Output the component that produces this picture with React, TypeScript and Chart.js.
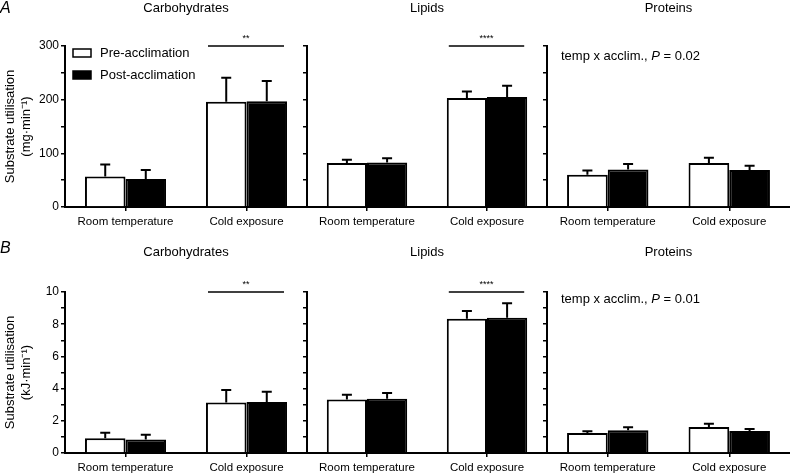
import React, { useEffect, useRef } from "react";
import { Chart, registerables } from "chart.js";
Chart.register(...registerables);

Chart.defaults.font.family = "'Liberation Sans', Arial, Helvetica, sans-serif";
Chart.defaults.color = "#000";

const categories = ["Room temperature", "Cold exposure"];
const panelTitles = ["Carbohydrates", "Lipids", "Proteins"];
const seriesNames = ["Pre-acclimation", "Post-acclimation"];

// Panel A: mg·min⁻¹ (mean and upper SD)
const carbMgPre = [57, 196];
const carbMgPost = [52, 197];
const carbMgPreSd = [22, 45];
const carbMgPostSd = [17, 38];
const lipidMgPre = [82, 203];
const lipidMgPost = [83, 205];
const lipidMgPreSd = [6, 12];
const lipidMgPostSd = [8, 21];
const protMgPre = [60, 82];
const protMgPost = [70, 69];
const protMgPreSd = [8, 10];
const protMgPostSd = [10, 8];

// Panel B: kJ·min⁻¹
const carbKjPre = [0.92, 3.13];
const carbKjPost = [0.84, 3.17];
const carbKjPreSd = [0.34, 0.79];
const carbKjPostSd = [0.29, 0.63];
const lipidKjPre = [3.33, 8.34];
const lipidKjPost = [3.37, 8.4];
const lipidKjPreSd = [0.29, 0.48];
const lipidKjPostSd = [0.36, 0.9];
const protKjPre = [1.24, 1.61];
const protKjPost = [1.41, 1.37];
const protKjPreSd = [0.11, 0.21];
const protKjPostSd = [0.19, 0.12];

// axes
const yLabelsA = [0, 100, 200, 300];
const yMaxA = 300;
const yStepA = 50;
const yLabelsB = [0, 2, 4, 6, 8, 10];
const yMaxB = 10;
const yStepB = 1;

const yTitleA = ["Substrate utilisation", "(mg·min⁻¹)"];
const yTitleB = ["Substrate utilisation", "(kJ·min⁻¹)"];

const sigMarks = ["**", "****", ""];
const interactionPA = "0.02";
const interactionPB = "0.01";

const FONT = "'Liberation Sans', Arial, Helvetica, sans-serif";

type PanelCfg = {
  col: number;
  row: number;
  pre: number[];
  post: number[];
  preSd: number[];
  postSd: number[];
  yMax: number;
  yStep: number;
  yLabels: number[];
  yTitle: string[] | null;
  letter: string | null;
  legend: boolean;
  sig: string;
  note: string | null;
};

const colLayout = [
  { left: 0, width: 307, yw: 65 },
  { left: 301, width: 246, yw: 6 },
  { left: 541, width: 249, yw: 6 },
];
const rowLayout = [
  { top: 0, height: 228, areaTop: 46, titleY: 8, letterY: 9, noteDy: 10 },
  { top: 236, height: 238, areaTop: 56, titleY: 16, letterY: 13, noteDy: 7 },
];
const XAXIS_H = 21;

function makeDecor(cfg: PanelCfg, errs: number[][]) {
  const rl = rowLayout[cfg.row];
  return {
    id: "decor" + cfg.row + cfg.col,
    afterDatasetsDraw(chart: any) {
      const ctx = chart.ctx as CanvasRenderingContext2D;
      const ys = chart.scales.y;
      const area = chart.chartArea;
      ctx.save();
      // error bars
      ctx.strokeStyle = "#000";
      ctx.lineWidth = 2;
      chart.data.datasets.forEach((ds: any, di: number) => {
        const meta = chart.getDatasetMeta(di);
        meta.data.forEach((el: any, i: number) => {
          const v = ds.data[i];
          const e = errs[di][i];
          const x = el.x;
          const y0 = el.y;
          const y1 = ys.getPixelForValue(v + e);
          ctx.beginPath();
          ctx.moveTo(x, y0);
          ctx.lineTo(x, y1);
          ctx.moveTo(x - 5, y1);
          ctx.lineTo(x + 5, y1);
          ctx.stroke();
        });
      });
      // significance line
      if (cfg.sig) {
        const a = chart.getDatasetMeta(0).data[1] as any;
        const b = chart.getDatasetMeta(1).data[1] as any;
        const x0 = a.x - a.width / 2 + 2;
        const x1 = b.x + b.width / 2 - 3;
        const yl = ys.getPixelForValue(cfg.yMax);
        ctx.lineWidth = 1.5;
        ctx.beginPath();
        ctx.moveTo(x0, yl);
        ctx.lineTo(x1, yl);
        ctx.stroke();
        ctx.fillStyle = "#000";
        ctx.font = "9px " + FONT;
        ctx.textAlign = "center";
        ctx.textBaseline = "middle";
        ctx.fillText(cfg.sig, (x0 + x1) / 2, yl - 7);
      }
      // title
      ctx.fillStyle = "#000";
      ctx.font = "13px " + FONT;
      ctx.textAlign = "center";
      ctx.textBaseline = "middle";
      ctx.fillText(panelTitles[cfg.col], (area.left + area.right) / 2, rl.titleY);
      // letter
      if (cfg.letter) {
        ctx.font = "italic 16px " + FONT;
        ctx.textAlign = "left";
        ctx.fillText(cfg.letter, 0, rl.letterY);
      }
      // legend
      if (cfg.legend) {
        ctx.font = "13px " + FONT;
        ctx.textAlign = "left";
        chart.data.datasets.forEach((ds: any, di: number) => {
          const by = area.top + 3 + di * 22;
          const bx = area.left + 8;
          ctx.fillStyle = ds.backgroundColor;
          ctx.fillRect(bx, by, 18, 8);
          ctx.strokeStyle = "#000";
          ctx.lineWidth = 1.5;
          ctx.strokeRect(bx, by, 18, 8);
          ctx.fillStyle = "#000";
          ctx.fillText(ds.label, bx + 27, by + 4.5);
        });
      }
      // interaction note
      if (cfg.note) {
        const nx = area.left + 14;
        const ny = area.top + rl.noteDy;
        ctx.textAlign = "left";
        ctx.textBaseline = "middle";
        ctx.fillStyle = "#000";
        ctx.font = "13px " + FONT;
        const p1 = "temp x acclim., ";
        ctx.fillText(p1, nx, ny);
        let w = ctx.measureText(p1).width;
        ctx.font = "italic 13px " + FONT;
        ctx.fillText("P", nx + w, ny);
        w += ctx.measureText("P").width;
        ctx.font = "13px " + FONT;
        ctx.fillText(" = " + cfg.note, nx + w, ny);
      }
      ctx.restore();
    },
  };
}

function Panel({ cfg }: { cfg: PanelCfg }) {
  const ref = useRef<HTMLCanvasElement | null>(null);
  const lay = colLayout[cfg.col];
  const rl = rowLayout[cfg.row];
  useEffect(() => {
    if (!ref.current) return;
    const errs = [cfg.preSd, cfg.postSd];
    const chart = new Chart(ref.current, {
      type: "bar",
      data: {
        labels: categories,
        datasets: [
          {
            label: seriesNames[0],
            data: cfg.pre,
            backgroundColor: "#ffffff",
            borderColor: "#000000",
            borderWidth: 2,
            categoryPercentage: 0.67,
            barPercentage: 1.0,
          },
          {
            label: seriesNames[1],
            data: cfg.post,
            backgroundColor: "#000000",
            borderColor: "#000000",
            borderWidth: 2,
            categoryPercentage: 0.67,
            barPercentage: 1.0,
          },
        ],
      },
      options: {
        responsive: false,
        animation: false,
        events: [],
        layout: { padding: { top: rl.areaTop, left: 0, right: 0, bottom: 0 } },
        plugins: {
          legend: { display: false },
          tooltip: { enabled: false },
          title: { display: false },
        },
        scales: {
          x: {
            type: "category",
            offset: true,
            grid: {
              display: true,
              offset: false,
              drawOnChartArea: false,
              drawTicks: true,
              tickLength: 4,
              color: "#000",
              lineWidth: 1.5,
            },
            border: { display: true, color: "#000", width: 2 },
            ticks: {
              autoSkip: false,
              maxRotation: 0,
              padding: 4,
              color: "#000",
              font: { size: 11.5, family: FONT },
            },
            afterFit: (s: any) => {
              s.height = XAXIS_H;
            },
          },
          y: {
            min: 0,
            max: cfg.yMax,
            grid: {
              display: true,
              drawOnChartArea: false,
              drawTicks: true,
              tickLength: 4,
              color: "#000",
              lineWidth: 1.5,
            },
            border: { display: true, color: "#000", width: 2 },
            ticks: {
              stepSize: cfg.yStep,
              autoSkip: false,
              padding: 2,
              color: "#000",
              font: { size: 12, family: FONT },
              callback: (v: any) =>
                cfg.col === 0 && cfg.yLabels.includes(Number(v)) ? String(v) : "",
            },
            title: cfg.yTitle
              ? {
                  display: true,
                  text: cfg.yTitle,
                  color: "#000",
                  font: { size: 13, family: FONT },
                  padding: { top: 3, bottom: 0 },
                }
              : { display: false },
            afterFit: (s: any) => {
              s.width = lay.yw;
            },
          },
        },
      },
      plugins: [makeDecor(cfg, errs)],
    } as any);
    return () => chart.destroy();
  }, []);
  return (
    <canvas
      ref={ref}
      width={lay.width}
      height={rl.height}
      style={{
        position: "absolute",
        left: lay.left,
        top: rl.top,
        width: lay.width,
        height: rl.height,
      }}
    />
  );
}

const panels: PanelCfg[] = [
  { col: 0, row: 0, pre: carbMgPre, post: carbMgPost, preSd: carbMgPreSd, postSd: carbMgPostSd, yMax: yMaxA, yStep: yStepA, yLabels: yLabelsA, yTitle: yTitleA, letter: "A", legend: true, sig: sigMarks[0], note: null },
  { col: 1, row: 0, pre: lipidMgPre, post: lipidMgPost, preSd: lipidMgPreSd, postSd: lipidMgPostSd, yMax: yMaxA, yStep: yStepA, yLabels: yLabelsA, yTitle: null, letter: null, legend: false, sig: sigMarks[1], note: null },
  { col: 2, row: 0, pre: protMgPre, post: protMgPost, preSd: protMgPreSd, postSd: protMgPostSd, yMax: yMaxA, yStep: yStepA, yLabels: yLabelsA, yTitle: null, letter: null, legend: false, sig: sigMarks[2], note: interactionPA },
  { col: 0, row: 1, pre: carbKjPre, post: carbKjPost, preSd: carbKjPreSd, postSd: carbKjPostSd, yMax: yMaxB, yStep: yStepB, yLabels: yLabelsB, yTitle: yTitleB, letter: "B", legend: false, sig: sigMarks[0], note: null },
  { col: 1, row: 1, pre: lipidKjPre, post: lipidKjPost, preSd: lipidKjPreSd, postSd: lipidKjPostSd, yMax: yMaxB, yStep: yStepB, yLabels: yLabelsB, yTitle: null, letter: null, legend: false, sig: sigMarks[1], note: null },
  { col: 2, row: 1, pre: protKjPre, post: protKjPost, preSd: protKjPreSd, postSd: protKjPostSd, yMax: yMaxB, yStep: yStepB, yLabels: yLabelsB, yTitle: null, letter: null, legend: false, sig: sigMarks[2], note: interactionPB },
];

export default function App() {
  return (
    <div
      style={{
        position: "absolute",
        left: 0,
        top: 0,
        width: 795,
        height: 473,
        background: "#fff",
        overflow: "hidden",
      }}
    >
      {panels.map((p, i) => (
        <Panel key={i} cfg={p} />
      ))}
    </div>
  );
}
